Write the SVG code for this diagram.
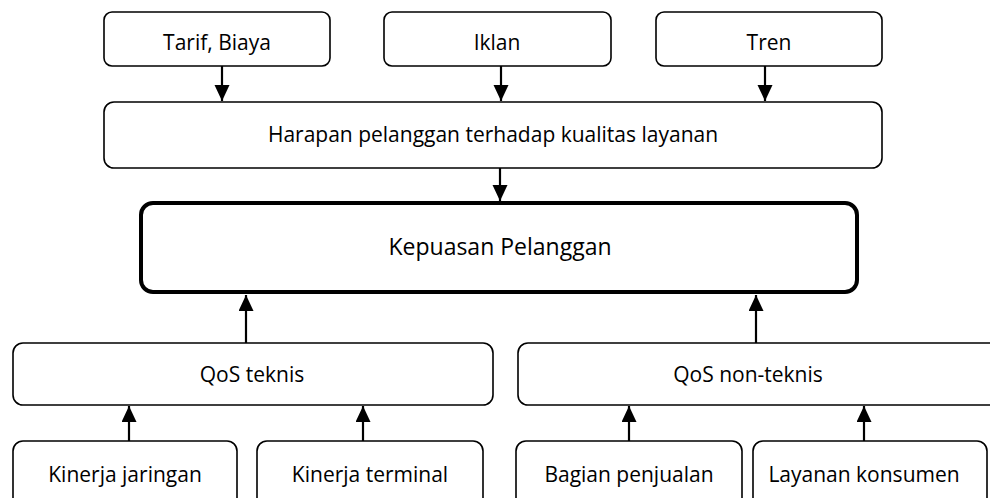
<svg xmlns="http://www.w3.org/2000/svg" width="990" height="498" viewBox="0 0 990 498">
<style>
.box{fill:#fff;stroke:#000;stroke-width:1.6}
.main{fill:#fff;stroke:#000;stroke-width:4}
.t{font-family:"Open Sans","Noto Sans",sans-serif;font-size:21px;fill:#000;text-anchor:middle}
.big{font-size:23px}
.c{stroke:#000;stroke-width:2.2;fill:none;marker-end:url(#ah)}
</style>
<defs>
<marker id="ah" markerUnits="userSpaceOnUse" markerWidth="16" markerHeight="18" refX="16" refY="7.5" orient="auto">
<path d="M0,0 L16,7.5 L0,15 Z" fill="#000"/>
</marker>
</defs>
<g id="n-tarif"><rect class="box" x="104" y="12" width="226" height="54" rx="8"/><text class="t" x="217" y="50">Tarif, Biaya</text></g>
<g id="n-iklan"><rect class="box" x="384" y="12" width="227" height="54" rx="8"/><text class="t" x="497" y="50">Iklan</text></g>
<g id="n-tren"><rect class="box" x="656" y="12" width="226" height="54" rx="8"/><text class="t" x="769" y="50">Tren</text></g>
<g id="n-harapan"><rect class="box" x="104" y="102" width="778" height="66" rx="10"/><text class="t" x="493" y="142">Harapan pelanggan terhadap kualitas layanan</text></g>
<g id="n-kepuasan"><rect class="main" x="141" y="203" width="716" height="89" rx="12"/><text class="t big" x="500" y="255">Kepuasan Pelanggan</text></g>
<g id="n-qos-teknis"><rect class="box" x="13" y="343" width="480" height="62" rx="10"/><text class="t" x="252" y="382">QoS teknis</text></g>
<g id="n-qos-nonteknis"><rect class="box" x="518" y="343" width="490" height="62" rx="10"/><text class="t" x="748" y="382">QoS non-teknis</text></g>
<g id="n-kinerja-jaringan"><rect class="box" x="13" y="441" width="224" height="70" rx="10"/><text class="t" x="125" y="482">Kinerja jaringan</text></g>
<g id="n-kinerja-terminal"><rect class="box" x="257" y="441" width="226" height="70" rx="10"/><text class="t" x="370" y="482">Kinerja terminal</text></g>
<g id="n-bagian-penjualan"><rect class="box" x="516" y="441" width="226" height="70" rx="10"/><text class="t" x="629" y="482">Bagian penjualan</text></g>
<g id="n-layanan-konsumen"><rect class="box" x="753" y="441" width="234" height="70" rx="10"/><text class="t" x="864" y="482">Layanan konsumen</text></g>
<g id="connectors">
<line class="c" x1="222" y1="66" x2="222" y2="101"/>
<line class="c" x1="501" y1="66" x2="501" y2="101"/>
<line class="c" x1="765" y1="66" x2="765" y2="101"/>
<line class="c" x1="500" y1="168" x2="500" y2="201"/>
<line class="c" x1="246" y1="343" x2="246" y2="295"/>
<line class="c" x1="756" y1="343" x2="756" y2="295"/>
<line class="c" x1="129" y1="441" x2="129" y2="406"/>
<line class="c" x1="363" y1="441" x2="363" y2="406"/>
<line class="c" x1="629" y1="441" x2="629" y2="406"/>
<line class="c" x1="864" y1="441" x2="864" y2="406"/>
</g>
</svg>
